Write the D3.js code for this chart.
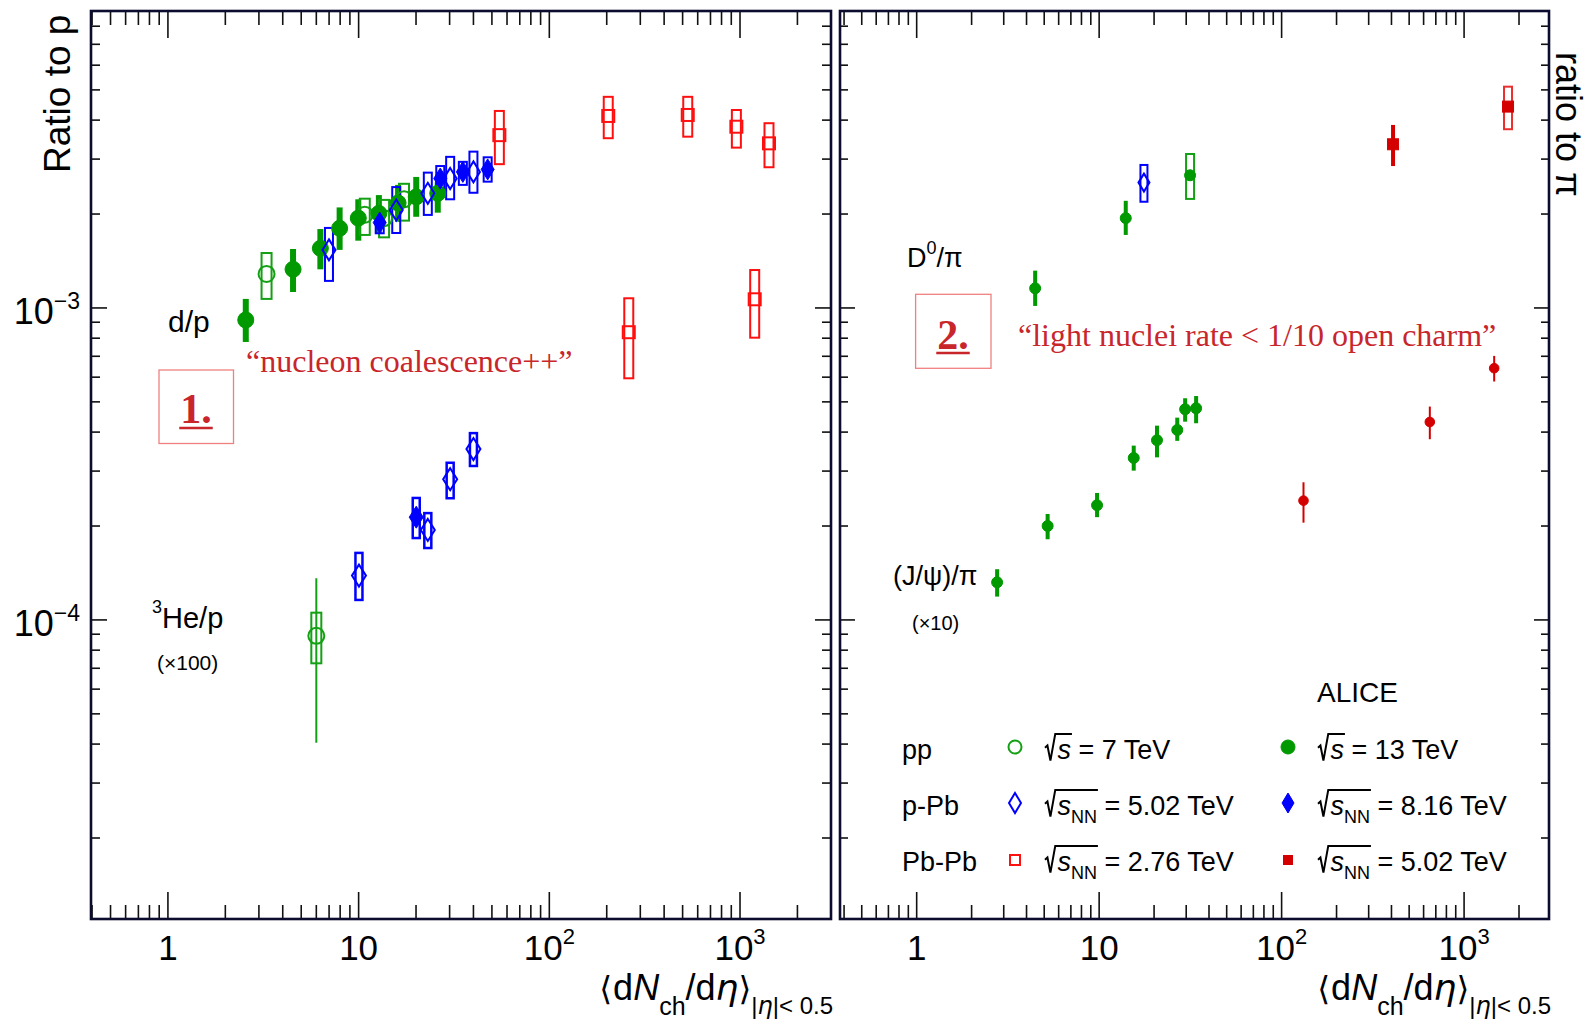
<!DOCTYPE html>
<html><head><meta charset="utf-8">
<script src="https://cdn.jsdelivr.net/npm/d3@7"></script>
<style>body{margin:0;background:#fff}text{white-space:pre}</style>
</head><body>
<svg id="c" width="1593" height="1024" xmlns="http://www.w3.org/2000/svg"></svg>
<script>
// ---------------- DATA ----------------
// x = <dNch/deta>, y = ratio ; error columns are [lo, hi] in data units
// d/p  (left panel)
const dpPP7 = [ // open circle, [x, y, sysLo, sysHi]
  [3.29, 1.285e-3, 1.069e-3, 1.50e-3],
  [10.77, 1.99e-3, 1.714e-3, 2.24e-3],
  [13.6, 1.94e-3, 1.684e-3, 2.22e-3],
  [17.3, 2.23e-3, 1.905e-3, 2.50e-3]];
const dpPP13 = [ // filled circle, [x, y, lo, hi]
  [2.56, 9.15e-4, 7.78e-4, 1.069e-3],
  [4.53, 1.33e-3, 1.125e-3, 1.545e-3],
  [6.30, 1.553e-3, 1.33e-3, 1.79e-3],
  [7.95, 1.80e-3, 1.535e-3, 2.10e-3],
  [9.96, 1.94e-3, 1.643e-3, 2.23e-3],
  [12.77, 2.01e-3, 1.735e-3, 2.30e-3],
  [16.1, 2.17e-3, 1.89e-3, 2.48e-3],
  [20.05, 2.27e-3, 1.96e-3, 2.63e-3],
  [26.0, 2.33e-3, 2.02e-3, 2.53e-3]];
const dpPPb502 = [ // open diamond, [x, y, sysLo, sysHi]
  [6.99, 1.535e-3, 1.221e-3, 1.805e-3],
  [15.75, 2.06e-3, 1.739e-3, 2.44e-3],
  [23.06, 2.33e-3, 1.987e-3, 2.715e-3],
  [30.2, 2.60e-3, 2.23e-3, 3.05e-3],
  [40.0, 2.73e-3, 2.34e-3, 3.17e-3]];
const dpPPb816 = [ // filled diamond
  [12.9, 1.878e-3, 1.735e-3, 2.02e-3],
  [26.8, 2.60e-3, 2.42e-3, 2.85e-3],
  [35.2, 2.73e-3, 2.48e-3, 2.94e-3],
  [47.5, 2.78e-3, 2.54e-3, 3.04e-3]];
const dpPbPb276 = [ // open square
  [54.7, 3.58e-3, 2.89e-3, 4.28e-3],
  [203.7, 4.125e-3, 3.50e-3, 4.75e-3],
  [532, 4.155e-3, 3.54e-3, 4.75e-3],
  [957, 3.81e-3, 3.265e-3, 4.31e-3],
  [1419, 3.37e-3, 2.825e-3, 3.91e-3]];
// 3He/p (x100)
const hePP7 = [ // [x, y, sysLo, sysHi, statLo, statHi]
  [6.0, 8.89e-5, 7.26e-5, 1.055e-4, 4.04e-5, 1.36e-4]];
const hePPb502 = [
  [10.04, 1.387e-4, 1.159e-4, 1.64e-4],
  [23.06, 1.943e-4, 1.70e-4, 2.20e-4],
  [30.2, 2.825e-4, 2.455e-4, 3.19e-4],
  [40.0, 3.53e-4, 3.115e-4, 3.97e-4]];
const hePPb816 = [
  [20.05, 2.135e-4, 1.83e-4, 2.46e-4]];
const hePbPb276 = [
  [261, 8.36e-4, 5.95e-4, 1.074e-3],
  [1194, 1.066e-3, 8.03e-4, 1.323e-3]];
// D0/pi (right panel)
const d0PP13 = [ // filled circle, [x, y, lo, hi, hasBox]
  [4.46, 1.156e-3, 1.015e-3, 1.317e-3, 0],
  [13.99, 1.94e-3, 1.714e-3, 2.205e-3, 0],
  [31.5, 2.662e-3, 2.236e-3, 3.115e-3, 1]];
const d0PPb502 = [
  [17.6, 2.522e-3, 2.19e-3, 2.873e-3]];
const d0PbPb502 = [ // filled square
  [408, 3.347e-3, 2.85e-3, 3.86e-3, 0],
  [1741, 4.42e-3, 3.74e-3, 5.12e-3, 1]];
// (J/psi)/pi (x10)
const jpsiPP13 = [
  [2.76, 1.32e-4, 1.188e-4, 1.454e-4],
  [5.22, 2.001e-4, 1.814e-4, 2.186e-4],
  [9.74, 2.332e-4, 2.135e-4, 2.553e-4],
  [15.47, 3.305e-4, 3.01e-4, 3.62e-4],
  [20.75, 3.767e-4, 3.32e-4, 4.195e-4],
  [26.8, 4.064e-4, 3.75e-4, 4.45e-4],
  [29.6, 4.735e-4, 4.32e-4, 5.135e-4],
  [34.0, 4.77e-4, 4.27e-4, 5.22e-4]];
const jpsiPbPb502 = [
  [131.8, 2.412e-4, 2.05e-4, 2.762e-4],
  [649, 4.31e-4, 3.795e-4, 4.83e-4],
  [1462, 6.41e-4, 5.81e-4, 7.02e-4]];

const xTickLabels = [[1, "1", ""], [10, "10", ""], [100, "10", "2"], [1000, "10", "3"]];
const yTickLabels = [[1e-4, "10", "\u22124"], [1e-3, "10", "\u22123"]];
const legendRows = ["pp", "p-Pb", "Pb-Pb"];
const legendLeft = [["7 TeV", false], ["5.02 TeV", true], ["2.76 TeV", true]];
const legendRight = [["13 TeV", false], ["8.16 TeV", true], ["5.02 TeV", true]];

// ---------------- STYLE ----------------
const SANS = "'Liberation Sans', Arial, 'DejaVu Sans', sans-serif";
const SERIF = "'Liberation Serif', 'Times New Roman', serif";
const FRAME = "#0c0c2e";
const GREEN = "#009900", GREEN_O = "#14a014", BLUE = "#0000ff",
      RED_O = "#ff1010", RED_F = "#d40000", ANN = "#c8262b", ANNBOX = "#f08080";

const svg = d3.select("#c");
svg.append("rect").attr("width", 1593).attr("height", 1024).attr("fill", "#fff");

const y = d3.scaleLog().domain([1.1e-5, 8.95e-3]).range([919, 11]);
const xL = d3.scaleLog().domain([0.395, 3000]).range([91, 831]);
const xR = d3.scaleLog().domain([0.38, 2920]).range([840, 1549]);

// rich text helper
function rich(g, x, yy, segs, anchor) {
  const grp = g.append("g");
  let cx = 0; const out = [];
  segs.forEach(s => {
    if (s.rad) {
      out.push({x0: cx, x1: cx + s.size * 0.46, s});
      cx += s.size * 0.46; return;
    }
    const t = grp.append("text").attr("x", cx).attr("y", s.dy || 0)
      .attr("font-size", s.size).attr("font-family", s.family || SANS)
      .attr("font-style", s.italic ? "italic" : "normal")
      .attr("font-weight", s.bold ? "bold" : "normal")
      .attr("fill", s.fill || "#000").text(s.t);
    const w = t.node().getComputedTextLength();
    out.push({x0: cx, x1: cx + w, s, node: t});
    cx += w + (s.kern || 0);
  });
  let ox = x;
  if (anchor === "middle") ox = x - cx / 2; else if (anchor === "end") ox = x - cx;
  grp.attr("transform", `translate(${ox},${yy})`);
  return {grp, width: cx, segs: out, ox};
}

// ---------------- FRAMES & AXES ----------------
function frame(xs, yMaj, yMin, yLabels) {
  const [x0, x1] = xs.range(); const [y1, y0] = y.range();
  const g = svg.append("g");
  xs.ticks().forEach(v => {
    const px = xs(v); if (px <= x0 + 1 || px >= x1 - 1) return;
    const maj = Math.abs(Math.log10(v) - Math.round(Math.log10(v))) < 1e-9;
    const len = maj ? 27 : 14;
    g.append("line").attr("x1", px).attr("x2", px).attr("y1", y0).attr("y2", y0 + len);
    g.append("line").attr("x1", px).attr("x2", px).attr("y1", y1).attr("y2", y1 - len);
  });
  y.ticks().forEach(v => {
    const py = y(v); if (py <= y0 + 1 || py >= y1 - 1) return;
    const maj = Math.abs(Math.log10(v) - Math.round(Math.log10(v))) < 1e-9;
    const len = maj ? yMaj : yMin;
    g.append("line").attr("x1", x0).attr("x2", x0 + len).attr("y1", py).attr("y2", py);
    g.append("line").attr("x1", x1).attr("x2", x1 - len).attr("y1", py).attr("y2", py);
  });
  g.selectAll("line").attr("stroke", "#111").attr("stroke-width", 1.6);
  g.append("rect").attr("x", x0).attr("y", y0).attr("width", x1 - x0).attr("height", y1 - y0)
    .attr("fill", "none").attr("stroke", FRAME).attr("stroke-width", 2.6);
  xTickLabels.forEach(([v, b, e]) => {
    const segs = [{t: b, size: 35}];
    if (e) segs.push({t: e, size: 22, dy: -16});
    rich(g, xs(v), 960, segs, "middle");
  });
  if (yLabels) yTickLabels.forEach(([v, b, e]) => {
    rich(g, 80, y(v) + 16, [{t: b, size: 36}, {t: e, size: 23, dy: -15}], "end");
  });
  // x title
  const segs = [
    {t: "\u27E8", size: 33, family: "'DejaVu Sans', sans-serif", kern: 1},
    {t: "d", size: 36}, {t: "N", size: 36, italic: true},
    {t: "ch", size: 25, dy: 15},
    {t: "/d", size: 36}, {t: "\u03B7", size: 36, italic: true, family: "'DejaVu Sans', sans-serif"},
    {t: "\u27E9", size: 33, family: "'DejaVu Sans', sans-serif"},
    {t: "|", size: 24, dy: 14}, {t: "\u03B7", size: 24, dy: 14, italic: true, family: "'DejaVu Sans', sans-serif"},
    {t: "|< 0.5", size: 24, dy: 14}];
  rich(g, x1 + 2, 1000, segs, "end");
}
frame(xL, 16, 9, true);
frame(xR, 15, 8, false);

// axis titles
svg.append("text").attr("transform", "translate(70,173) rotate(-90)")
  .attr("font-family", SANS).attr("font-size", 37).text("Ratio to p");
svg.append("text").attr("transform", "translate(1556,52) rotate(90)")
  .attr("font-family", SANS).attr("font-size", 36).text("ratio to \u03C0");

// ---------------- MARKERS ----------------
const M = svg.append("g");
function vbar(cx, a, b, color, w) {
  M.append("line").attr("x1", cx).attr("x2", cx).attr("y1", y(a)).attr("y2", y(b))
    .attr("stroke", color).attr("stroke-width", w);
}
function sbox(cx, a, b, w, color, sw) {
  M.append("rect").attr("x", cx - w / 2).attr("y", y(b)).attr("width", w).attr("height", y(a) - y(b))
    .attr("fill", "none").attr("stroke", color).attr("stroke-width", sw || 2);
}
function circ(g, cx, cy, r, color, filled) {
  g.append("circle").attr("cx", cx).attr("cy", cy).attr("r", r)
    .attr("fill", filled ? color : "none").attr("stroke", color).attr("stroke-width", filled ? 1 : 2);
}
function diam(g, cx, cy, hw, hh, color, filled) {
  g.append("path").attr("d", `M${cx},${cy - hh}L${cx + hw},${cy}L${cx},${cy + hh}L${cx - hw},${cy}Z`)
    .attr("fill", filled ? color : "none").attr("stroke", color).attr("stroke-width", filled ? 1 : 2);
}
function sq(g, cx, cy, s, color, filled) {
  g.append("rect").attr("x", cx - s / 2).attr("y", cy - s / 2).attr("width", s).attr("height", s)
    .attr("fill", filled ? color : "none").attr("stroke", color).attr("stroke-width", filled ? 1 : 2);
}

// left panel: d/p and 3He/p
dpPP13.forEach(d => vbar(xL(d[0]), d[2], d[3], GREEN, 6));
dpPP7.forEach(d => sbox(xL(d[0]), d[2], d[3], 10, GREEN_O));
dpPPb502.forEach(d => sbox(xL(d[0]), d[2], d[3], 8, BLUE));
dpPPb816.forEach(d => sbox(xL(d[0]), d[2], d[3], 8, BLUE));
dpPbPb276.forEach(d => sbox(xL(d[0]), d[2], d[3], 9, RED_O));
hePP7.forEach(d => { vbar(xL(d[0]), d[4], d[5], GREEN_O, 2); sbox(xL(d[0]), d[2], d[3], 10, GREEN_O); });
hePPb502.forEach(d => sbox(xL(d[0]), d[2], d[3], 7, BLUE, 2.5));
hePPb816.forEach(d => sbox(xL(d[0]), d[2], d[3], 7, BLUE, 2.5));
hePbPb276.forEach(d => sbox(xL(d[0]), d[2], d[3], 9, RED_O));

dpPP7.forEach(d => circ(M, xL(d[0]), y(d[1]), 8, GREEN_O, false));
dpPP13.forEach(d => circ(M, xL(d[0]), y(d[1]), 8, GREEN, true));
dpPPb502.forEach(d => diam(M, xL(d[0]), y(d[1]), 6.5, 10.5, BLUE, false));
dpPPb816.forEach(d => diam(M, xL(d[0]), y(d[1]), 6.5, 10.5, BLUE, true));
dpPbPb276.forEach(d => sq(M, xL(d[0]), y(d[1]), 12, RED_O, false));
hePP7.forEach(d => circ(M, xL(d[0]), y(d[1]), 8, GREEN_O, false));
hePPb502.forEach(d => diam(M, xL(d[0]), y(d[1]), 7, 11, BLUE, false));
hePPb816.forEach(d => diam(M, xL(d[0]), y(d[1]), 7, 11, BLUE, true));
hePbPb276.forEach(d => sq(M, xL(d[0]), y(d[1]), 12, RED_O, false));

// right panel: D0/pi and J/psi/pi
d0PP13.forEach(d => d[4] ? sbox(xR(d[0]), d[2], d[3], 8, GREEN_O) : vbar(xR(d[0]), d[2], d[3], GREEN, 4));
d0PPb502.forEach(d => sbox(xR(d[0]), d[2], d[3], 7, BLUE));
d0PbPb502.forEach(d => d[4] ? sbox(xR(d[0]), d[2], d[3], 8, "#e83030") : vbar(xR(d[0]), d[2], d[3], RED_F, 4));
jpsiPP13.forEach(d => vbar(xR(d[0]), d[2], d[3], GREEN, 4));
jpsiPbPb502.forEach(d => vbar(xR(d[0]), d[2], d[3], RED_F, 2));

d0PP13.forEach(d => circ(M, xR(d[0]), y(d[1]), 5.5, GREEN, true));
d0PPb502.forEach(d => diam(M, xR(d[0]), y(d[1]), 5.5, 9, BLUE, false));
d0PbPb502.forEach(d => sq(M, xR(d[0]), y(d[1]), 11, RED_F, true));
jpsiPP13.forEach(d => circ(M, xR(d[0]), y(d[1]), 5.5, GREEN, true));
jpsiPbPb502.forEach(d => circ(M, xR(d[0]), y(d[1]), 4.8, RED_F, true));

// ---------------- LABELS ----------------
const T = svg.append("g");
rich(T, 168, 332, [{t: "d/p", size: 30}]);
rich(T, 152, 628, [{t: "3", size: 18, dy: -15}, {t: "He/p", size: 29}]);
rich(T, 157, 670, [{t: "(\u00D7100)", size: 21}]);
rich(T, 907, 267, [{t: "D", size: 27}, {t: "0", size: 18, dy: -13}, {t: "/\u03C0", size: 27}]);
rich(T, 893, 585, [{t: "(J/\u03C8)/\u03C0", size: 27}]);
rich(T, 912, 630, [{t: "(\u00D710)", size: 20}]);
rich(T, 1317, 702, [{t: "ALICE", size: 28}]);

// legend
const rowY = [759, 815, 871];
function sqrtLabel(x, yy, val, nn) {
  const segs = [{rad: true, size: 27}, {t: "s", size: 27, italic: true}];
  if (nn) segs.push({t: "NN", size: 18, dy: 8});
  segs.push({t: " = " + val, size: 27});
  const r = rich(T, x, yy, segs);
  const f = 27, end = r.segs[nn ? 2 : 1].x1 + 1;
  r.grp.append("path").attr("d",
    `M0,${-0.42 * f} L${0.09 * f},${-0.5 * f} L${0.2 * f},${0.06 * f} L${0.38 * f},${-0.93 * f} L${end},${-0.93 * f}`)
    .attr("fill", "none").attr("stroke", "#000").attr("stroke-width", 2).attr("stroke-linejoin", "miter");
}
legendRows.forEach((lab, i) => {
  rich(T, 902, rowY[i], [{t: lab, size: 27}]);
  sqrtLabel(1045, rowY[i], legendLeft[i][0], legendLeft[i][1]);
  sqrtLabel(1318, rowY[i], legendRight[i][0], legendRight[i][1]);
});
const LG = svg.append("g");
circ(LG, 1015, 747, 6.5, GREEN_O, false);
circ(LG, 1288, 747, 7, GREEN, true);
diam(LG, 1015, 803, 6, 10, BLUE, false);
diam(LG, 1288, 803, 6, 10, BLUE, true);
sq(LG, 1015, 860, 10, RED_O, false);
sq(LG, 1288, 860, 9, RED_F, true);

// annotations
const A = svg.append("g");
A.append("rect").attr("x", 159).attr("y", 370).attr("width", 74.5).attr("height", 73.5)
  .attr("fill", "none").attr("stroke", ANNBOX).attr("stroke-width", 1.3);
A.append("rect").attr("x", 915.6).attr("y", 294.3).attr("width", 75.4).attr("height", 74)
  .attr("fill", "none").attr("stroke", ANNBOX).attr("stroke-width", 1.3);
const n1 = rich(A, 196, 423, [{t: "1.", size: 42, bold: true, family: SERIF, fill: ANN}], "middle");
const n2 = rich(A, 953, 349, [{t: "2.", size: 42, bold: true, family: SERIF, fill: ANN}], "middle");
[n1, n2].forEach((n, i) => {
  const yy = i === 0 ? 428 : 353;
  A.append("line").attr("x1", n.ox - 1).attr("x2", n.ox + n.width + 1).attr("y1", yy).attr("y2", yy)
    .attr("stroke", ANN).attr("stroke-width", 2.4);
});
rich(A, 246, 372, [{t: "\u201Cnucleon coalescence++\u201D", size: 32, family: SERIF, fill: ANN}]);
rich(A, 1018, 346, [{t: "\u201Clight nuclei rate < 1/10 open charm\u201D", size: 32, family: SERIF, fill: ANN}]);
</script>
</body></html>
